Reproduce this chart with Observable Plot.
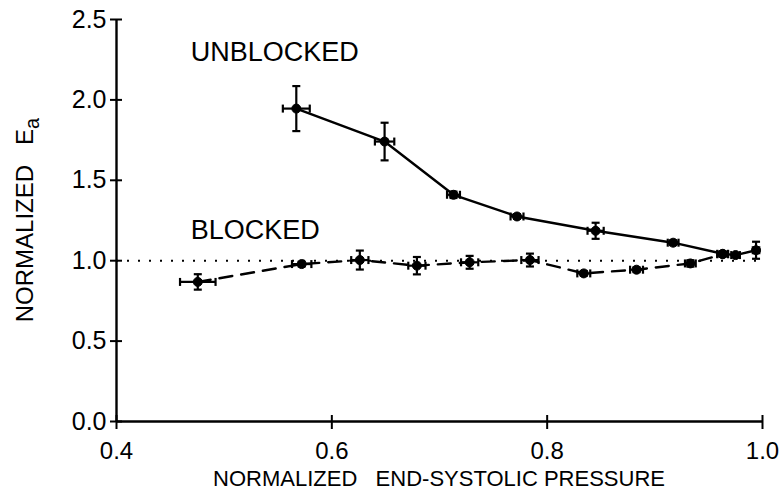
<!DOCTYPE html>
<html><head><meta charset="utf-8">
<script src="https://cdn.jsdelivr.net/npm/d3@7"></script>
<script src="https://cdn.jsdelivr.net/npm/@observablehq/plot@0.6"></script>
<style>body{margin:0;background:#fff}</style>
</head><body><div id="chart"></div>
<script>
// Unblocked series
const unblockedX    = [0.567, 0.649, 0.713, 0.772, 0.845, 0.917, 0.963, 0.975, 0.994];
const unblockedY    = [1.946, 1.741, 1.410, 1.275, 1.186, 1.112, 1.043, 1.035, 1.065];
const unblockedXErr = [0.0125, 0.009, 0.006, 0.006, 0.0075, 0.005, 0.005, 0.004, 0.003];
const unblockedYErr = [0.14, 0.117, 0.02, 0.015, 0.05, 0.015, 0.015, 0.01, 0.053];
// Blocked series
const blockedX    = [0.4755, 0.572, 0.626, 0.679, 0.728, 0.784, 0.834, 0.883, 0.933, 0.963];
const blockedY    = [0.868, 0.979, 1.004, 0.969, 0.990, 1.004, 0.921, 0.944, 0.983, 1.040];
const blockedXErr = [0.0165, 0.009, 0.008, 0.008, 0.008, 0.008, 0.006, 0.006, 0.005, 0.005];
const blockedYErr = [0.048, 0.015, 0.059, 0.054, 0.04, 0.04, 0.015, 0.015, 0.02, 0.015];
// Axes
const xTicks = [0.4, 0.6, 0.8, 1.0];
const yTicks = [0, 0.5, 1.0, 1.5, 2.0, 2.5];
// Annotations
const labelText = ["UNBLOCKED", "BLOCKED"];
const labelX = [0.469, 0.469];
const labelY = [2.295, 1.19];

const toRows = (X, Y, XE, YE) => X.map((x, i) => ({x, y: Y[i], xe: XE[i], ye: YE[i]}));
const unblocked = toRows(unblockedX, unblockedY, unblockedXErr, unblockedYErr);
const blocked = toRows(blockedX, blockedY, blockedXErr, blockedYErr);
const labels = labelText.map((t, i) => ({text: t, x: labelX[i], y: labelY[i]}));

const capHoriz = {draw(ctx, size) { const r = Math.sqrt(size / Math.PI); ctx.moveTo(-r, 0); ctx.lineTo(r, 0); }};
const capVert  = {draw(ctx, size) { const r = Math.sqrt(size / Math.PI); ctx.moveTo(0, -r); ctx.lineTo(0, r); }};

function errorMarks(data) {
  const s = {stroke: "black", strokeWidth: 2.2, fill: "none"};
  return [
    Plot.ruleX(data, {x: "x", y1: d => d.y - d.ye, y2: d => d.y + d.ye, ...s}),
    Plot.ruleY(data, {y: "y", x1: d => d.x - d.xe, x2: d => d.x + d.xe, ...s}),
    Plot.dot(data, {x: "x", y: d => d.y - d.ye, symbol: capHoriz, r: 4, ...s}),
    Plot.dot(data, {x: "x", y: d => d.y + d.ye, symbol: capHoriz, r: 4, ...s}),
    Plot.dot(data, {x: d => d.x - d.xe, y: "y", symbol: capVert, r: 4, ...s}),
    Plot.dot(data, {x: d => d.x + d.xe, y: "y", symbol: capVert, r: 4, ...s}),
    Plot.dot(data, {x: "x", y: "y", r: 4.5, fill: "black", stroke: "black", strokeWidth: 1})
  ];
}

const chart = Plot.plot({
  width: 779, height: 496,
  marginLeft: 116, marginRight: 17, marginTop: 19, marginBottom: 75,
  style: {fontFamily: "'Liberation Sans', Arial, Helvetica, sans-serif", background: "white", color: "black"},
  x: {domain: [0.4, 1.0]},
  y: {domain: [0, 2.5]},
  marks: [
    Plot.ruleY([1.0], {stroke: "black", strokeWidth: 2, strokeDasharray: "2,9"}),
    Plot.line(blocked, {x: "x", y: "y", stroke: "black", strokeWidth: 2.4, strokeDasharray: "13,9"}),
    Plot.line(unblocked, {x: "x", y: "y", stroke: "black", strokeWidth: 2.4}),
    ...errorMarks(unblocked),
    ...errorMarks(blocked),
    Plot.ruleX([0.4], {stroke: "black", strokeWidth: 2.4}),
    Plot.ruleY([0], {stroke: "black", strokeWidth: 2.4}),
    Plot.axisX(xTicks, {tickSize: 14, dy: -6, tickPadding: 12, fontSize: 24, strokeWidth: 2,
      tickFormat: d3.format(".1f"), label: null}),
    Plot.axisY(yTicks, {tickSize: 12, dx: 6, tickPadding: 4, fontSize: 25, strokeWidth: 2,
      tickFormat: d3.format(".1f"), label: null}),
    Plot.text(labels, {x: "x", y: "y", text: "text", textAnchor: "start", lineAnchor: "middle", fontSize: 27, fill: "black"})
  ]
});
document.getElementById("chart").appendChild(chart);

// Axis titles
const svg = d3.select(chart.tagName.toLowerCase() === "svg" ? chart : chart.querySelector("svg"));
const xs = chart.scale("x"), ys = chart.scale("y");
const cx = (xs.apply(0.4) + xs.apply(1.0)) / 2;
svg.append("text")
  .attr("x", cx).attr("y", 486)
  .attr("text-anchor", "middle")
  .attr("font-size", 22)
  .attr("fill", "black")
  .style("white-space", "pre")
  .text("NORMALIZED   END-SYSTOLIC PRESSURE");
const cy = (ys.apply(0) + ys.apply(2.5)) / 2;
const yl = svg.append("text")
  .attr("transform", `translate(33,${cy}) rotate(-90)`)
  .attr("text-anchor", "middle")
  .attr("font-size", 24)
  .attr("fill", "black")
  .style("white-space", "pre");
yl.append("tspan").text("NORMALIZED   E");
yl.append("tspan").attr("font-size", 20).attr("dy", 6).text("a");
</script>
</body></html>
